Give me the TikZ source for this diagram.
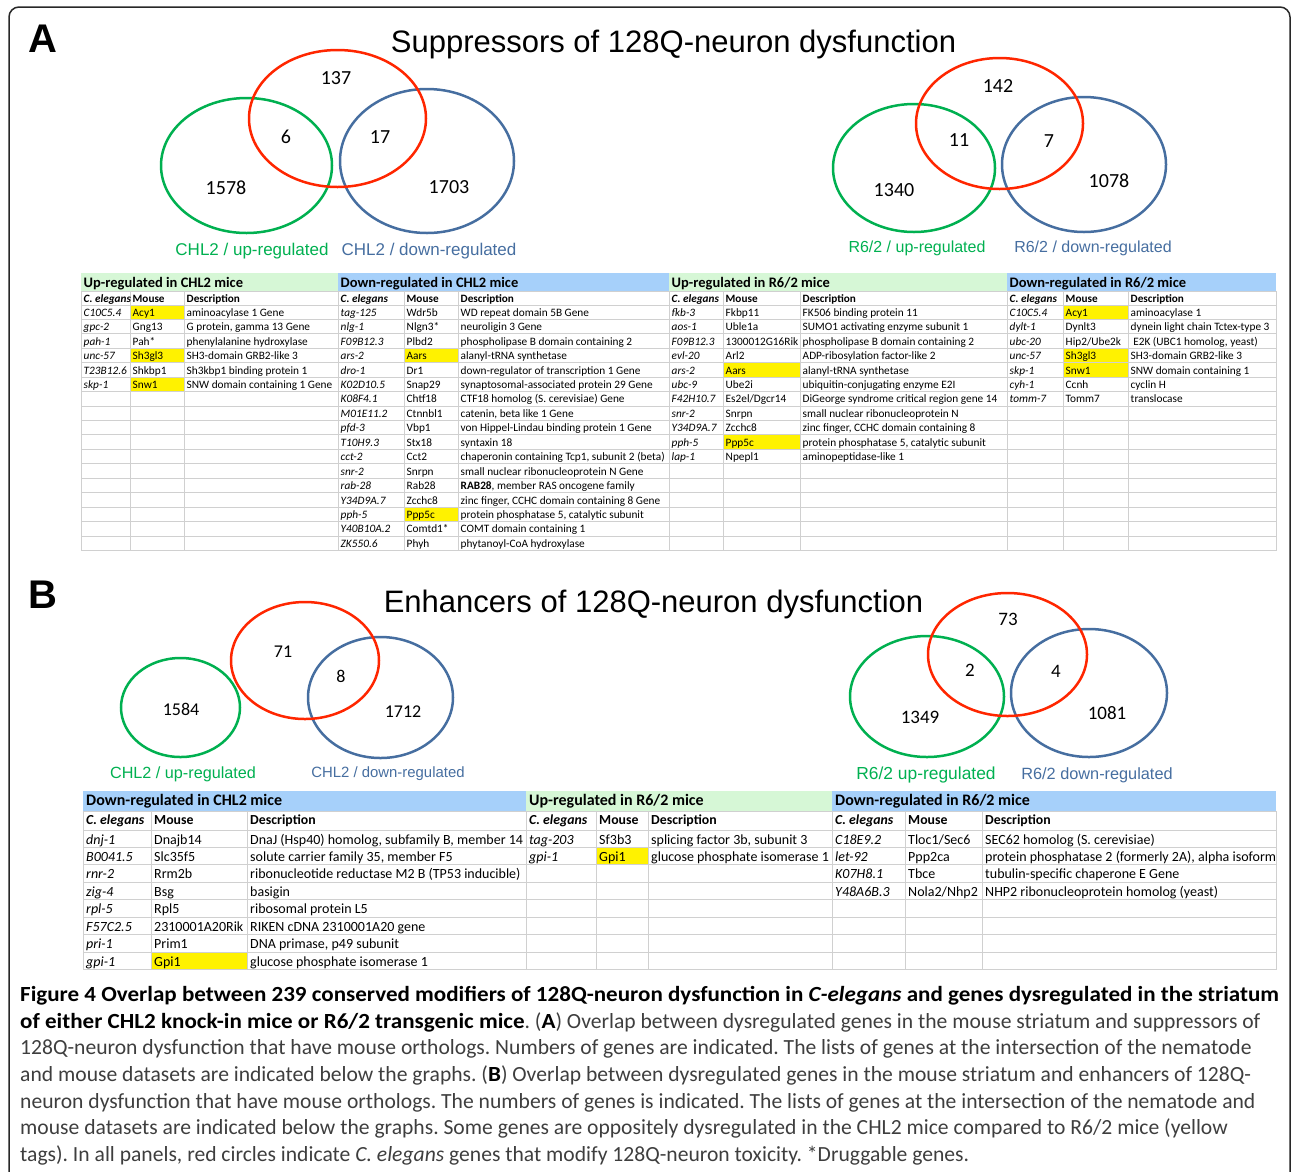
\documentclass[tikz,border=0pt]{standalone}
\usepackage{fontspec}
\setmainfont{Carlito}
\newfontfamily\arialfont{Liberation Sans}
\newfontfamily\capboldfont[FakeStretch=1.067]{Carlito}
\frenchspacing

\definecolor{venngreen}{RGB}{0,176,80}
\definecolor{vennred}{RGB}{255,38,0}
\definecolor{vennblue}{RGB}{70,110,160}
\definecolor{hdgreen}{RGB}{214,247,214}
\definecolor{hdblue}{RGB}{166,208,250}
\definecolor{gridgray}{RGB}{208,208,208}
\definecolor{hilite}{RGB}{255,242,0}
\definecolor{captext}{RGB}{62,62,62}
\definecolor{framegray}{RGB}{40,40,40}

\newcommand\capb[1]{\textcolor{black}{\capboldfont\bfseries #1}}

\tikzset{
  venn/.style={line width=2.5pt},
  vennnum/.style={inner sep=0pt, font=\fontsize{20}{24}\selectfont},
  vennlab/.style={anchor=base, inner sep=0pt, font=\arialfont\fontsize{17}{20}\selectfont},
  paneltitle/.style={anchor=base, inner sep=0pt, font=\arialfont\fontsize{31}{36}\selectfont},
  panelletter/.style={anchor=base west, inner sep=0pt, font=\arialfont\bfseries\fontsize{40}{46}\selectfont},
  gridline/.style={draw=gridgray, line width=1pt},
  cellA/.style={anchor=base west, inner sep=0pt, font=\fontsize{11.3}{13}\selectfont},
  ceA/.style={cellA, font=\fontsize{11.3}{13}\selectfont\itshape},
  subA/.style={anchor=base west, inner sep=0pt, font=\fontsize{11.2}{13}\selectfont\bfseries},
  headA/.style={anchor=base west, inner sep=0pt, font=\fontsize{14.5}{17}\selectfont\bfseries},
  cellB/.style={anchor=base west, inner sep=0pt, font=\fontsize{14}{16}\selectfont},
  ceB/.style={cellB, font=\fontsize{14}{16}\selectfont\itshape},
  subB/.style={anchor=base west, inner sep=0pt, font=\fontsize{13.8}{16}\selectfont\bfseries},
  headB/.style={anchor=base west, inner sep=0pt, font=\fontsize{16}{19}\selectfont\bfseries},
  capline/.style={anchor=base west, inner sep=0pt, text=captext, font=\fontsize{21.6}{26}\selectfont},
}

\begin{document}
\begin{tikzpicture}[x=1pt, y=-1pt]
\useasboundingbox (0,0) rectangle (1292,1171);

% frame
\draw[framegray, line width=1.5pt, rounded corners=10pt] (9,1175) |- (1290,7) -- (1290,1175);

% ---------- panel A ----------
\node[panelletter] (letA) at (28,52) {A};
\node[paneltitle] (titleA) at (673.5,52) {Suppressors of 128Q-neuron dysfunction};

% CHL2 venn
\draw[venn, venngreen] (246.5,165.5) ellipse [x radius=85.5, y radius=67.5];
\draw[venn, vennblue] (427,161) ellipse [x radius=87, y radius=72];
\draw[venn, vennred] (337.5,118.5) ellipse [x radius=88.5, y radius=68.5];
\node[vennnum] (sAl-r) at (336,78) {137};
\node[vennnum] (sAl-gr) at (286,137) {6};
\node[vennnum] (sAl-rb) at (380,137) {17};
\node[vennnum] (sAl-g) at (226,188) {1578};
\node[vennnum] (sAl-b) at (449,187) {1703};
\node[vennlab, text=venngreen] (sAl-glab) at (252,255) {CHL2 / up-regulated};
\node[vennlab, text=vennblue] (sAl-blab) at (429,255) {CHL2 / down-regulated};

% R6/2 venn
\draw[venn, venngreen] (914,168) ellipse [x radius=81, y radius=64];
\draw[venn, vennblue] (1084,164.5) ellipse [x radius=82, y radius=67.5];
\draw[venn, vennred] (999.5,123.5) ellipse [x radius=83.5, y radius=65.5];
\node[vennnum] (sAr-r) at (998,86) {142};
\node[vennnum] (sAr-gr) at (959,140) {11};
\node[vennnum] (sAr-rb) at (1049,141) {7};
\node[vennnum] (sAr-g) at (894,190) {1340};
\node[vennnum] (sAr-b) at (1109,181) {1078};
\node[vennlab, text=venngreen, font=\arialfont\fontsize{16}{19}\selectfont] (sAr-glab) at (917,252.5) {R6/2 / up-regulated};
\node[vennlab, text=vennblue, font=\arialfont\fontsize{16}{19}\selectfont] (sAr-blab) at (1093,252.5) {R6/2 / down-regulated};

% table A
\fill[hdgreen] (81,273) rectangle (338,291);
\fill[hdblue] (338,273) rectangle (669,291);
\fill[hdgreen] (669,273) rectangle (1007,291);
\fill[hdblue] (1007,273) rectangle (1276,291);
\foreach \x/\w/\r in {130/54/0, 130/54/3, 130/54/5, 404/54/3, 404/54/14,
  723/77/4, 723/77/9, 1063/65/0, 1063/65/3, 1063/65/4}
  \fill[hilite] (\x,305+14.44*\r) rectangle ++(\w,14.44);
\draw[gridline] (81,291) -- (1276,291);
\foreach \r in {0,...,17}
  \draw[gridline] (81,305+14.44*\r) -- (1276,305+14.44*\r);
\foreach \x in {81,130,184,338,404,458,669,723,800,1007,1063,1128,1276}
  \draw[gridline] (\x,291) -- (\x,550.5);

\node[headA] (hA1) at (83.5,287) {Up-regulated in CHL2 mice};
\node[headA] (hA2) at (340.5,287) {Down-regulated in CHL2 mice};
\node[headA] (hA3) at (671.5,287) {Up-regulated in R6/2 mice};
\node[headA] (hA4) at (1009.5,287) {Down-regulated in R6/2 mice};
\foreach \x/\m/\d [count=\g] in {83.5/132.5/186.5, 340.5/406.5/460.5,
  671.5/725.5/802.5, 1009.5/1065.5/1130.5}{
  \node[subA, font=\fontsize{11.2}{13}\selectfont\bfseries\itshape] (sA\g-ce) at (\x,302.5) {C. elegans};
  \node[subA] (sA\g-mo) at (\m,302.5) {Mouse};
  \node[subA] (sA\g-de) at (\d,302.5) {Description};
}

% up-regulated in CHL2
\foreach \ce/\mo/\de [count=\r from 0] in {
  C10C5.4/Acy1/aminoacylase 1 Gene,
  gpc-2/Gng13/{G protein, gamma 13 Gene},
  pah-1/Pah*/phenylalanine hydroxylase,
  unc-57/Sh3gl3/SH3-domain GRB2-like 3,
  T23B12.6/Shkbp1/Sh3kbp1 binding protein 1,
  skp-1/Snw1/SNW domain containing 1 Gene}{
  \node[ceA] (a1c\r) at (83.5,316.3+14.44*\r) {\ce};
  \node[cellA] (a1m\r) at (132.5,316.3+14.44*\r) {\mo};
  \node[cellA] (a1d\r) at (186.5,316.3+14.44*\r) {\de};
}
% down-regulated in CHL2
\foreach \ce/\mo/\de [count=\r from 0] in {
  tag-125/Wdr5b/WD repeat domain 5B Gene,
  nlg-1/Nlgn3*/neuroligin 3 Gene,
  F09B12.3/Plbd2/phospholipase B domain containing 2,
  ars-2/Aars/alanyl-tRNA synthetase,
  dro-1/Dr1/down-regulator of transcription 1 Gene,
  K02D10.5/Snap29/synaptosomal-associated protein 29 Gene,
  K08F4.1/Chtf18/CTF18 homolog (S. cerevisiae) Gene,
  M01E11.2/Ctnnbl1/{catenin, beta like 1 Gene},
  pfd-3/Vbp1/von Hippel-Lindau binding protein 1 Gene,
  T10H9.3/Stx18/syntaxin 18,
  cct-2/Cct2/{chaperonin containing Tcp1, subunit 2 (beta)},
  snr-2/Snrpn/small nuclear ribonucleoprotein N Gene,
  rab-28/Rab28/{\textbf{RAB28}, member RAS oncogene family},
  Y34D9A.7/Zcchc8/{zinc finger, CCHC domain containing 8 Gene},
  pph-5/Ppp5c/{protein phosphatase 5, catalytic subunit},
  Y40B10A.2/Comtd1*/COMT domain containing 1,
  ZK550.6/Phyh/phytanoyl-CoA hydroxylase}{
  \node[ceA] (a2c\r) at (340.5,316.3+14.44*\r) {\ce};
  \node[cellA] (a2m\r) at (406.5,316.3+14.44*\r) {\mo};
  \node[cellA] (a2d\r) at (460.5,316.3+14.44*\r) {\de};
}
% up-regulated in R6/2
\foreach \ce/\mo/\de [count=\r from 0] in {
  fkb-3/Fkbp11/FK506 binding protein 11,
  aos-1/Uble1a/SUMO1 activating enzyme subunit 1,
  F09B12.3/1300012G16Rik/phospholipase B domain containing 2,
  evl-20/Arl2/ADP-ribosylation factor-like 2,
  ars-2/Aars/alanyl-tRNA synthetase,
  ubc-9/Ube2i/ubiquitin-conjugating enzyme E2I,
  F42H10.7/{Es2el/Dgcr14}/DiGeorge syndrome critical region gene 14,
  snr-2/Snrpn/small nuclear ribonucleoprotein N,
  Y34D9A.7/Zcchc8/{zinc finger, CCHC domain containing 8},
  pph-5/Ppp5c/{protein phosphatase 5, catalytic subunit},
  lap-1/Npepl1/aminopeptidase-like 1}{
  \node[ceA] (a3c\r) at (671.5,316.3+14.44*\r) {\ce};
  \node[cellA] (a3m\r) at (725.5,316.3+14.44*\r) {\mo};
  \node[cellA] (a3d\r) at (802.5,316.3+14.44*\r) {\de};
}
% down-regulated in R6/2
\foreach \ce/\mo/\de [count=\r from 0] in {
  C10C5.4/Acy1/aminoacylase 1,
  dylt-1/Dynlt3/dynein light chain Tctex-type 3,
  ubc-20/{Hip2/Ube2k}/{\ E2K (UBC1 homolog, yeast)},
  unc-57/Sh3gl3/SH3-domain GRB2-like 3,
  skp-1/Snw1/SNW domain containing 1,
  cyh-1/Ccnh/cyclin H,
  tomm-7/Tomm7/translocase}{
  \node[ceA] (a4c\r) at (1009.5,316.3+14.44*\r) {\ce};
  \node[cellA] (a4m\r) at (1065.5,316.3+14.44*\r) {\mo};
  \node[cellA] (a4d\r) at (1130.5,316.3+14.44*\r) {\de};
}

% ---------- panel B ----------
\node[panelletter] (letB) at (28,608) {B};
\node[paneltitle] (titleB) at (653.5,612) {Enhancers of 128Q-neuron dysfunction};

% CHL2 venn
\draw[venn, venngreen] (180.5,707.5) ellipse [x radius=59.5, y radius=49.5];
\draw[venn, vennblue] (380.5,697.5) ellipse [x radius=72.5, y radius=60.5];
\draw[venn, vennred] (305,660.5) ellipse [x radius=74, y radius=58.5];
\node[vennnum, font=\fontsize{18}{22}\selectfont] (eBl-r) at (283,652) {71};
\node[vennnum, font=\fontsize{18}{22}\selectfont] (eBl-rb) at (341,676) {8};
\node[vennnum, font=\fontsize{18}{22}\selectfont] (eBl-g) at (181,709) {1584};
\node[vennnum, font=\fontsize{18}{22}\selectfont] (eBl-b) at (403,712) {1712};
\node[vennlab, text=venngreen, font=\arialfont\fontsize{16.2}{19}\selectfont] (eBl-glab) at (183,778) {CHL2 / up-regulated};
\node[vennlab, text=vennblue, font=\arialfont\fontsize{14.9}{18}\selectfont] (eBl-blab) at (388,777.5) {CHL2 / down-regulated};

% R6/2 venn
\draw[venn, venngreen] (927,696.5) ellipse [x radius=77, y radius=60.5];
\draw[venn, vennblue] (1089,693) ellipse [x radius=78, y radius=64];
\draw[venn, vennred] (1007.5,654.5) ellipse [x radius=79.5, y radius=61.5];
\node[vennnum, font=\fontsize{19}{23}\selectfont] (eBr-r) at (1008,619) {73};
\node[vennnum, font=\fontsize{19}{23}\selectfont] (eBr-gr) at (970,670) {2};
\node[vennnum, font=\fontsize{19}{23}\selectfont] (eBr-rb) at (1056,671) {4};
\node[vennnum, font=\fontsize{19}{23}\selectfont] (eBr-g) at (920,717) {1349};
\node[vennnum, font=\fontsize{19}{23}\selectfont] (eBr-b) at (1107,713) {1081};
\node[vennlab, text=venngreen, font=\arialfont\fontsize{17.4}{20}\selectfont] (eBr-glab) at (926,779) {R6/2 up-regulated};
\node[vennlab, text=vennblue, font=\arialfont\fontsize{16.3}{19}\selectfont] (eBr-blab) at (1097,779) {R6/2 down-regulated};

% table B
\fill[hdblue] (83,791) rectangle (526,811);
\fill[hdgreen] (526,791) rectangle (832,811);
\fill[hdblue] (832,791) rectangle (1276,811);
\foreach \x/\w/\r in {151/96/7, 596/52/1}
  \fill[hilite] (\x,830+17.43*\r) rectangle ++(\w,17.43);
\draw[gridline] (83,811) -- (1276,811);
\foreach \r in {0,...,8}
  \draw[gridline] (83,830+17.43*\r) -- (1276,830+17.43*\r);
\foreach \x in {83,151,247,526,596,648,832,905,982,1276}
  \draw[gridline] (\x,811) -- (\x,969.5);

\node[headB] (hB1) at (86,805.3) {Down-regulated in CHL2 mice};
\node[headB] (hB2) at (529,805.3) {Up-regulated in R6/2 mice};
\node[headB] (hB3) at (835,805.3) {Down-regulated in R6/2 mice};
\foreach \x/\m/\d [count=\g] in {86/154/250, 529/599/651, 835/908/985}{
  \node[subB, font=\fontsize{13.8}{16}\selectfont\bfseries\itshape] (sB\g-ce) at (\x,824.7) {C. elegans};
  \node[subB] (sB\g-mo) at (\m,824.7) {Mouse};
  \node[subB] (sB\g-de) at (\d,824.7) {Description};
}

% down-regulated in CHL2
\foreach \ce/\mo/\de [count=\r from 0] in {
  dnj-1/Dnajb14/{DnaJ (Hsp40) homolog, subfamily B, member 14},
  B0041.5/Slc35f5/{solute carrier family 35, member F5},
  rnr-2/Rrm2b/ribonucleotide reductase M2 B (TP53 inducible),
  zig-4/Bsg/basigin,
  rpl-5/Rpl5/ribosomal protein L5,
  F57C2.5/2310001A20Rik/RIKEN cDNA 2310001A20 gene,
  pri-1/Prim1/{DNA primase, p49 subunit},
  gpi-1/Gpi1/glucose phosphate isomerase 1}{
  \node[ceB] (b1c\r) at (86,844+17.43*\r) {\ce};
  \node[cellB] (b1m\r) at (154,844+17.43*\r) {\mo};
  \node[cellB] (b1d\r) at (250,844+17.43*\r) {\de};
}
% up-regulated in R6/2
\foreach \ce/\mo/\de [count=\r from 0] in {
  tag-203/Sf3b3/{splicing factor 3b, subunit 3},
  gpi-1/Gpi1/glucose phosphate isomerase 1}{
  \node[ceB] (b2c\r) at (529,844+17.43*\r) {\ce};
  \node[cellB] (b2m\r) at (599,844+17.43*\r) {\mo};
  \node[cellB] (b2d\r) at (651,844+17.43*\r) {\de};
}
% down-regulated in R6/2
\foreach \ce/\mo/\de [count=\r from 0] in {
  C18E9.2/{Tloc1/Sec6}/SEC62 homolog (S. cerevisiae),
  let-92/Ppp2ca/{protein phosphatase 2 (formerly 2A), alpha isoform},
  K07H8.1/Tbce/tubulin-specific chaperone E Gene,
  Y48A6B.3/{Nola2/Nhp2}/NHP2 ribonucleoprotein homolog (yeast)}{
  \node[ceB] (b3c\r) at (835,844+17.43*\r) {\ce};
  \node[cellB] (b3m\r) at (908,844+17.43*\r) {\mo};
  \node[cellB] (b3d\r) at (985,844+17.43*\r) {\de};
}

% ---------- caption ----------
\node[capline] (cap1) at (20,1001.5) {\capb{Figure 4 Overlap between 239 conserved modifiers of 128Q-neuron dysfunction in \textit{C-elegans} and genes dysregulated in the striatum}};
\node[capline] (cap2) at (20,1028.2) {\capb{of either CHL2 knock-in mice or R6/2 transgenic mice}. (\capb{A}) Overlap between dysregulated genes in the mouse striatum and suppressors of};
\node[capline] (cap3) at (20,1054.8) {128Q-neuron dysfunction that have mouse orthologs. Numbers of genes are indicated. The lists of genes at the intersection of the nematode};
\node[capline] (cap4) at (20,1081.5) {and mouse datasets are indicated below the graphs. (\capb{B}) Overlap between dysregulated genes in the mouse striatum and enhancers of 128Q-};
\node[capline] (cap5) at (20,1108.2) {neuron dysfunction that have mouse orthologs. The numbers of genes is indicated. The lists of genes at the intersection of the nematode and};
\node[capline] (cap6) at (20,1134.8) {mouse datasets are indicated below the graphs. Some genes are oppositely dysregulated in the CHL2 mice compared to R6/2 mice (yellow};
\node[capline] (cap7) at (20,1161.5) {tags). In all panels, red circles indicate \textit{C. elegans} genes that modify 128Q-neuron toxicity. *Druggable genes.};
\end{tikzpicture}
\end{document}
